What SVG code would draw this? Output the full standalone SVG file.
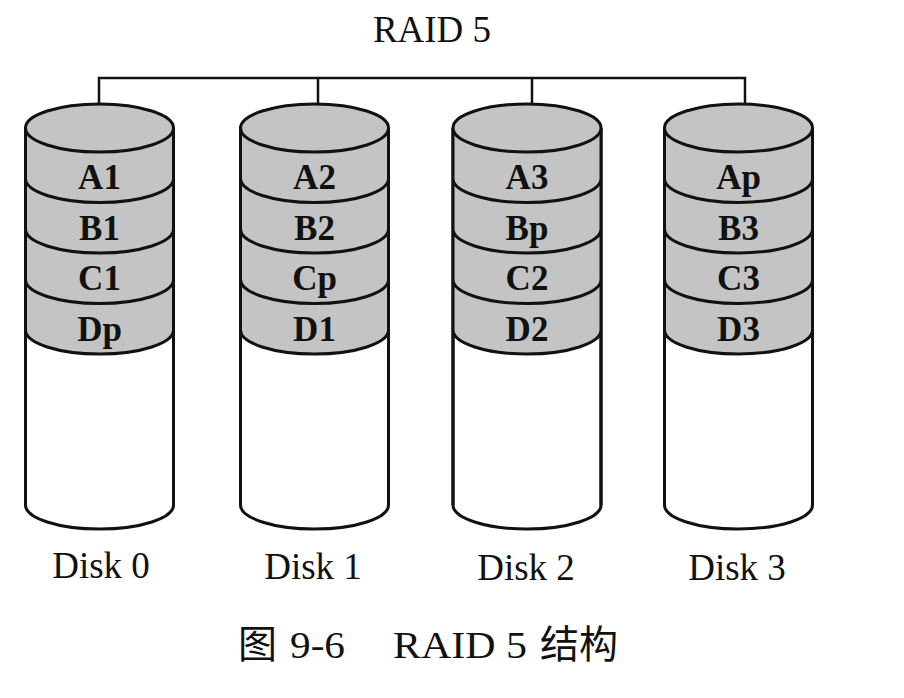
<svg xmlns="http://www.w3.org/2000/svg" width="904" height="698" viewBox="0 0 904 698">
<defs>
<style>
.bg{fill:#ffffff}
.body{fill:#ffffff;stroke:#111;stroke-width:3}
.shade{fill:#c4c4c4;stroke:none}
.top{fill:#c4c4c4;stroke:#111;stroke-width:3}
.arc{fill:none;stroke:#111;stroke-width:3}
.conn{fill:none;stroke:#111;stroke-width:2.5}
.lbl{font-family:"Liberation Serif","DejaVu Serif",serif;font-size:35px;font-weight:bold;fill:#111;text-anchor:middle}
.dname{font-family:"Liberation Serif","DejaVu Serif",serif;font-size:37px;fill:#111;text-anchor:middle}
.title{font-family:"Liberation Serif","DejaVu Serif",serif;font-size:37px;fill:#111;text-anchor:middle}
.cap{font-family:"Liberation Serif","Noto Sans CJK SC",serif;font-size:38px;fill:#111}
.cjk{font-family:"Noto Sans CJK SC",sans-serif;font-size:39px;fill:#111}
</style>
</defs>
<rect class="bg" x="0" y="0" width="904" height="698"/>
<text class="title" x="432" y="42">RAID 5</text>
<g id="connectors">
<path class="conn" d="M99,125 V78 H745 V125 M318,78 V125 M532,78 V125"/>
</g>
<g id="disk0">
<path class="body" d="M25.5,128 V505 A74 24 0 0 0 173.5,505 V128"/>
<path class="shade" d="M25.5,128 V330 A74 24 0 0 0 173.5,330 V128 Z"/>
<path class="arc" d="M25.5,128 V505 M173.5,128 V505 M25.5,178.5 A74 24 0 0 0 173.5,178.5 M25.5,229 A74 24 0 0 0 173.5,229 M25.5,279.5 A74 24 0 0 0 173.5,279.5 M25.5,330 A74 24 0 0 0 173.5,330"/>
<ellipse class="top" cx="99.5" cy="128" rx="74" ry="24"/>
<text class="lbl" x="99.5" y="189">A1</text>
<text class="lbl" x="99.5" y="239.5">B1</text>
<text class="lbl" x="99.5" y="290">C1</text>
<text class="lbl" x="99.5" y="340.5">Dp</text>
<text class="dname" x="101" y="578">Disk 0</text>
</g>
<g id="disk1">
<path class="body" d="M240.5,128 V505 A74 24 0 0 0 388.5,505 V128"/>
<path class="shade" d="M240.5,128 V330 A74 24 0 0 0 388.5,330 V128 Z"/>
<path class="arc" d="M240.5,128 V505 M388.5,128 V505 M240.5,178.5 A74 24 0 0 0 388.5,178.5 M240.5,229 A74 24 0 0 0 388.5,229 M240.5,279.5 A74 24 0 0 0 388.5,279.5 M240.5,330 A74 24 0 0 0 388.5,330"/>
<ellipse class="top" cx="314.5" cy="128" rx="74" ry="24"/>
<text class="lbl" x="314.5" y="189">A2</text>
<text class="lbl" x="314.5" y="239.5">B2</text>
<text class="lbl" x="314.5" y="290">Cp</text>
<text class="lbl" x="314.5" y="340.5">D1</text>
<text class="dname" x="313" y="579">Disk 1</text>
</g>
<g id="disk2">
<path class="body" d="M453,128 V505 A74 24 0 0 0 601,505 V128"/>
<path class="shade" d="M453,128 V330 A74 24 0 0 0 601,330 V128 Z"/>
<path class="arc" d="M453,128 V505 M601,128 V505 M453,178.5 A74 24 0 0 0 601,178.5 M453,229 A74 24 0 0 0 601,229 M453,279.5 A74 24 0 0 0 601,279.5 M453,330 A74 24 0 0 0 601,330"/>
<ellipse class="top" cx="527" cy="128" rx="74" ry="24"/>
<text class="lbl" x="527" y="189">A3</text>
<text class="lbl" x="527" y="239.5">Bp</text>
<text class="lbl" x="527" y="290">C2</text>
<text class="lbl" x="527" y="340.5">D2</text>
<text class="dname" x="526" y="580">Disk 2</text>
</g>
<g id="disk3">
<path class="body" d="M664.5,128 V505 A74 24 0 0 0 812.5,505 V128"/>
<path class="shade" d="M664.5,128 V330 A74 24 0 0 0 812.5,330 V128 Z"/>
<path class="arc" d="M664.5,128 V505 M812.5,128 V505 M664.5,178.5 A74 24 0 0 0 812.5,178.5 M664.5,229 A74 24 0 0 0 812.5,229 M664.5,279.5 A74 24 0 0 0 812.5,279.5 M664.5,330 A74 24 0 0 0 812.5,330"/>
<ellipse class="top" cx="738.5" cy="128" rx="74" ry="24"/>
<text class="lbl" x="738.5" y="189">Ap</text>
<text class="lbl" x="738.5" y="239.5">B3</text>
<text class="lbl" x="738.5" y="290">C3</text>
<text class="lbl" x="738.5" y="340.5">D3</text>
<text class="dname" x="737" y="580">Disk 3</text>
</g>
<text class="cjk" x="238" y="658">图</text>
<text class="cap" x="290" y="658" textLength="55" lengthAdjust="spacingAndGlyphs">9-6</text>
<text class="cap" x="393" y="658" textLength="134" lengthAdjust="spacingAndGlyphs">RAID 5</text>
<text class="cjk" x="540" y="658">结构</text>
</svg>
